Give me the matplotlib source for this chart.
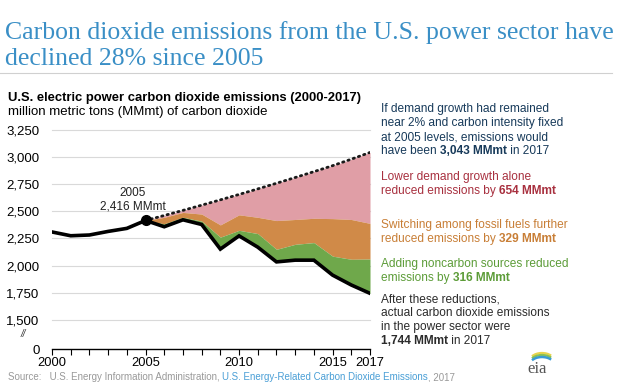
import matplotlib
matplotlib.use("Agg")
import matplotlib.pyplot as plt
from matplotlib.patches import Arc

W, H = 630, 382
plt.rcParams['font.family'] = ['Liberation Sans', 'DejaVu Sans']

# ---- data ----
years = list(range(2000, 2018))
actual = [2310, 2275, 2282, 2315, 2343, 2416, 2358, 2422, 2379, 2152,
          2274, 2170, 2034, 2050, 2050, 1912, 1821, 1744]
proj_years = list(range(2005, 2018))
counterfactual = [2416, 2462, 2509, 2557, 2606, 2656, 2707, 2759, 2812,
                  2866, 2921, 2981, 3043]
after_demand = [2416, 2445, 2490, 2475, 2375, 2468, 2445, 2415, 2425,
                2436, 2433, 2425, 2389]
after_switch = [2416, 2385, 2445, 2410, 2262, 2325, 2295, 2150, 2196,
                2212, 2087, 2058, 2060]
ytick_vals = [1231, 1500, 1750, 2000, 2250, 2500, 2750, 3000, 3250]
ytick_labels = ["0", "1,500", "1,750", "2,000", "2,250", "2,500", "2,750",
                "3,000", "3,250"]
xtick_vals = [2000, 2005, 2010, 2015, 2017]
xtick_labels = ["2000", "2005", "2010", "2015", "2017"]

PINK = "#e09ea6"
ORANGE = "#d08a48"
GREEN = "#6fa84b"

def fx(x):
    return x / W

def fy(y):
    return 1 - y / H

fig = plt.figure(figsize=(W / 100, H / 100), dpi=100)
renderer = fig.canvas.get_renderer()

# ---- axes ----
left, right = 52, 370
bottom, top = 349, 130
ax = fig.add_axes([fx(left), fy(bottom), (right - left) / W, (bottom - top) / H])
ax.set_xlim(2000, 2017)
ax.set_ylim(ytick_vals[0], ytick_vals[-1])

actual_proj = actual[5:]
ax.fill_between(proj_years, after_demand, counterfactual, color=PINK, lw=0, zorder=1)
ax.fill_between(proj_years, after_switch, after_demand, color=ORANGE, lw=0, zorder=1)
ax.fill_between(proj_years, actual_proj, after_switch, color=GREEN, lw=0, zorder=1)

for v in ytick_vals[1:]:
    ax.axhline(v, color="#d9d9d9", lw=0.8, zorder=0, clip_on=False)

ax.plot(proj_years, counterfactual, color="#1a1a1a", lw=2.0, ls=(0, (0.5, 1.5)),
        dash_capstyle='round', zorder=3)
ax.plot(years, actual, color="black", lw=2.6, zorder=4, solid_joinstyle='miter')
ax.plot([2005], [actual[5]], 'o', color="black", ms=7, zorder=5)

ax.text(2004.32, 2672, "2005", ha='center', va='center', fontsize=8.5, color="#222")
ax.text(2004.32, 2543, "2,416 MMmt", ha='center', va='center', fontsize=8.5, color="#222")

for s in ['top', 'right', 'left']:
    ax.spines[s].set_visible(False)
ax.spines['bottom'].set_color('black')
ax.spines['bottom'].set_linewidth(1.0)
ax.set_xticks(xtick_vals)
ax.set_xticklabels(xtick_labels, fontsize=9.3)
ax.set_xticks(years, minor=True)
ax.tick_params(axis='x', which='both', direction='out', length=4, width=0.8,
               pad=2, colors='black')
ax.set_yticks(ytick_vals)
ax.set_yticklabels(ytick_labels, fontsize=9.5)
ax.tick_params(axis='y', length=0, pad=9)
ax.text(-0.09, 0.068, "//", transform=ax.transAxes, fontsize=7, ha='center',
        va='center', style='italic', color='#333')

# ---- title ----
TITLE_C = "#3a8fc6"
fig.text(fx(5), fy(33), "Carbon dioxide emissions from the U.S. power sector have",
         fontsize=18.5, family='Liberation Serif', color=TITLE_C, va='center')
fig.text(fx(5), fy(59), "declined 28% since 2005",
         fontsize=18.5, family='Liberation Serif', color=TITLE_C, va='center')
fig.add_artist(plt.Line2D([0, fx(612)], [fy(73), fy(73)], color="#d0d0d0", lw=0.8))

fig.text(fx(8), fy(98), "U.S. electric power carbon dioxide emissions (2000-2017)",
         fontsize=9.4, fontweight='bold', color='black', va='center')
fig.text(fx(8), fy(112), "million metric tons (MMmt) of carbon dioxide",
         fontsize=9.5, color='black', va='center')

# ---- right annotations ----
FS = 8.6

def rich(xpix, y, parts, color, fs):
    for txt, bold, *c in parts:
        t = fig.text(fx(xpix), fy(y), txt, fontsize=fs, color=(c[0] if c else color),
                     va='center', fontweight='bold' if bold else 'normal')
        bb = t.get_window_extent(renderer=renderer)
        xpix += bb.width

blocks = [
    ("#173a5a", [(109, [("If demand growth had remained", False)]),
                 (123, [("near 2% and carbon intensity fixed", False)]),
                 (137, [("at 2005 levels, emissions would", False)]),
                 (151, [("have been ", False), ("3,043 MMmt", True), (" in 2017", False)])]),
    ("#a8303f", [(177, [("Lower demand growth alone", False)]),
                 (191, [("reduced emissions by ", False), ("654 MMmt", True)])]),
    ("#c87e36", [(225, [("Switching among fossil fuels further", False)]),
                 (239, [("reduced emissions by ", False), ("329 MMmt", True)])]),
    ("#5c9c38", [(264, [("Adding noncarbon sources reduced", False)]),
                 (278, [("emissions by ", False), ("316 MMmt", True)])]),
    ("#2b2b2b", [(300, [("After these reductions,", False)]),
                 (313, [("actual carbon dioxide emissions", False)]),
                 (327, [("in the power sector were", False)]),
                 (341, [("1,744 MMmt", True), (" in 2017", False)])]),
]

for color, rows in blocks:
    for y, parts in rows:
        rich(381, y, parts, color, FS)

# ---- eia logo ----
fig.text(fx(537), fy(369), "eia", fontsize=12, family='Liberation Serif',
         color="#555555", ha='center', va='center')
lax = fig.add_axes([fx(520), fy(364), 40 / W, 16 / H])
lax.set_xlim(0, 40)
lax.set_ylim(0, 16)
lax.axis('off')
for (c, dy, w) in [("#e8d44d", 0, 1.6), ("#8cc152", 2, 1.6), ("#3a9bd5", 4, 1.8)]:
    lax.add_patch(Arc((22, 2 - dy), 26, 18, theta1=35, theta2=150, color=c, lw=w))

# ---- source line ----
rich(8, 377, [("Source:   U.S. Energy Information Administration, ", False),
              ("U.S. Energy-Related Carbon Dioxide Emissions", False, "#4a9fd6"),
              (", 2017", False)], "#999999", 7)

fig.savefig("out.png", dpi=100)
